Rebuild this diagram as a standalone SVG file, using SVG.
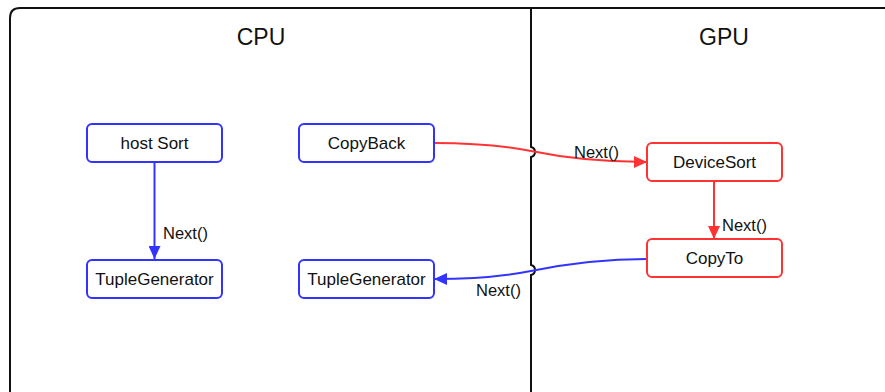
<svg xmlns="http://www.w3.org/2000/svg" width="885" height="392" viewBox="0 0 885 392">
<style>
text{font-family:"Liberation Sans",Arial,sans-serif;fill:#111}
.title{font-size:23px;text-anchor:middle}
.lbl{font-size:17px;text-anchor:middle;dominant-baseline:central}
.elbl{font-size:16.5px}
.nb{fill:#fff;stroke:#3333ff;stroke-width:2}
.nr{fill:#fff;stroke:#ff3333;stroke-width:2}
.eb{fill:none;stroke:#3333ff;stroke-width:2}
.er{fill:none;stroke:#ff3333;stroke-width:2}
.frame{fill:none;stroke:#111;stroke-width:2}
</style>
<defs>
<marker id="ab" markerUnits="userSpaceOnUse" markerWidth="14" markerHeight="12" refX="13" refY="6" orient="auto"><path d="M0,0 L13,6 L0,12 Z" fill="#3333ff"/></marker>
<marker id="ar" markerUnits="userSpaceOnUse" markerWidth="14" markerHeight="12" refX="13" refY="6" orient="auto"><path d="M0,0 L13,6 L0,12 Z" fill="#ff3333"/></marker>
</defs>
<rect width="885" height="392" fill="#fff"/>
<g id="frame">
<path class="frame" d="M10,392 L10,18 Q10,8 20,8 L886,8"/>
<path class="frame" d="M531,8 L531,147 Q535,148 535,152 Q535,156 531,157 L531,265 Q535,266 535,270 Q535,274 531,275 L531,392"/>
<text class="title" x="261" y="45">CPU</text>
<text class="title" x="724" y="45">GPU</text>
</g>
<g id="connectors">
<path class="eb" d="M154.5,162 L154.5,259" marker-end="url(#ab)"/>
<text class="elbl" x="163" y="239">Next()</text>
<path class="er" d="M434,143 C480,143 505,146 531,151 C565,158 600,162 647,162" marker-end="url(#ar)"/>
<text class="elbl" x="574" y="158">Next()</text>
<path class="er" d="M714,182 L714,239" marker-end="url(#ar)"/>
<text class="elbl" x="722" y="231">Next()</text>
<path class="eb" d="M647,259 C600,259 565,264 531,271 C505,276 475,279 434,279" marker-end="url(#ab)"/>
<text class="elbl" x="476" y="296">Next()</text>
</g>
<g id="hostSort"><rect class="nb" x="87" y="124" width="135" height="38" rx="5"/><text class="lbl" x="154.5" y="143">host Sort</text></g>
<g id="copyBack"><rect class="nb" x="299" y="124" width="135" height="38" rx="5"/><text class="lbl" x="366.5" y="143">CopyBack</text></g>
<g id="tupleGen1"><rect class="nb" x="87" y="260" width="135" height="38" rx="5"/><text class="lbl" x="154.5" y="279">TupleGenerator</text></g>
<g id="tupleGen2"><rect class="nb" x="299" y="260" width="135" height="38" rx="5"/><text class="lbl" x="366.5" y="279">TupleGenerator</text></g>
<g id="deviceSort"><rect class="nr" x="647" y="143" width="135" height="38" rx="5"/><text class="lbl" x="714.5" y="162">DeviceSort</text></g>
<g id="copyTo"><rect class="nr" x="647" y="239" width="135" height="38" rx="5"/><text class="lbl" x="714.5" y="258">CopyTo</text></g>
</svg>
